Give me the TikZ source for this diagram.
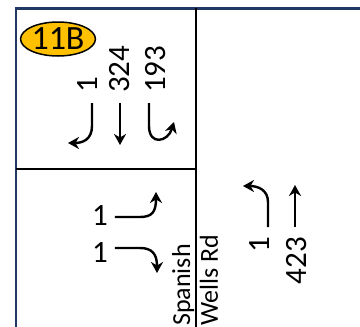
\documentclass[tikz,border=0pt]{standalone}
\usepackage{fontspec}
\setmainfont{Carlito}
\usetikzlibrary{arrows.meta,shapes.geometric}
\definecolor{navy}{HTML}{1F3864}
\definecolor{gold}{HTML}{FFC000}
\tikzset{
  lbl/.style={inner sep=0pt, font=\fontsize{31}{33}\selectfont},
  rlbl/.style={lbl, rotate=90},
  mv/.style={line width=2.4pt, -{Stealth[length=11pt,width=12pt,inset=3.5pt]}},
}
\begin{document}
\begin{tikzpicture}[x=1pt,y=-1pt]
\useasboundingbox (0,0) rectangle (360,327);
% frame
\draw[navy, line width=3pt] (15,8) -- (360,8);
\draw[navy, line width=2.5pt] (16,8) -- (16,327);
\draw[black, line width=1.8pt] (196,8) -- (196,327);
\draw[black, line width=1.5pt] (16,169) -- (196,169);
% badge
\node[draw, line width=1.5pt, fill=gold, ellipse, minimum width=72pt, minimum height=34pt, inner sep=0pt, font=\fontsize{34}{36}\selectfont] (badge) at (58,39) {11B};
% top approach labels
\node[rlbl, anchor=base west] (t1) at (98,93) {1};
\node[rlbl, anchor=base west] (t2) at (130,93) {324};
\node[rlbl, anchor=base west] (t3) at (166,93) {193};
\coordinate (t1s) at (92,103);
\coordinate (t1e) at (68,143);
\coordinate (t2s) at (120,103);
\coordinate (t2e) at (120,145);
\coordinate (t3s) at (149,103);
\coordinate (t3e) at (174,122);
\draw[mv] (t1s) -- (92,126) .. controls (92,140) and (82,143) .. (t1e);
\draw[mv] (t2s) -- (t2e);
\draw[mv] (t3s) -- (149,126) .. controls (149,146) and (168,142) .. (t3e);
% left approach
\node[lbl, anchor=east] (l1) at (108,216) {1};
\node[lbl, anchor=east] (l2) at (108,253) {1};
\coordinate (l1s) at (115,217);
\coordinate (l1e) at (156,192);
\coordinate (l2s) at (115,248);
\coordinate (l2e) at (157,273);
\draw[mv] (l1s) -- (140,217) .. controls (152,217) and (156,212) .. (l1e);
\draw[mv] (l2s) -- (140,248) .. controls (152,248) and (157,254) .. (l2e);
% street name
\node[rlbl, anchor=base west, font=\fontsize{26}{28}\selectfont] (sp) at (190,326) {Spanish};
\node[rlbl, anchor=base west, font=\fontsize{26}{28}\selectfont] (wr) at (218,326) {Wells Rd};
% bottom approach
\node[rlbl, anchor=base east] (b1) at (270,237) {1};
\node[rlbl, anchor=base east] (b2) at (306,237) {423};
\coordinate (b1s) at (268,227);
\coordinate (b1e) at (243,186);
\coordinate (b2s) at (295,227);
\coordinate (b2e) at (295,185);
\draw[mv] (b1s) -- (268,202) .. controls (268,190) and (258,186) .. (b1e);
\draw[mv] (b2s) -- (b2e);
\end{tikzpicture}
\end{document}
